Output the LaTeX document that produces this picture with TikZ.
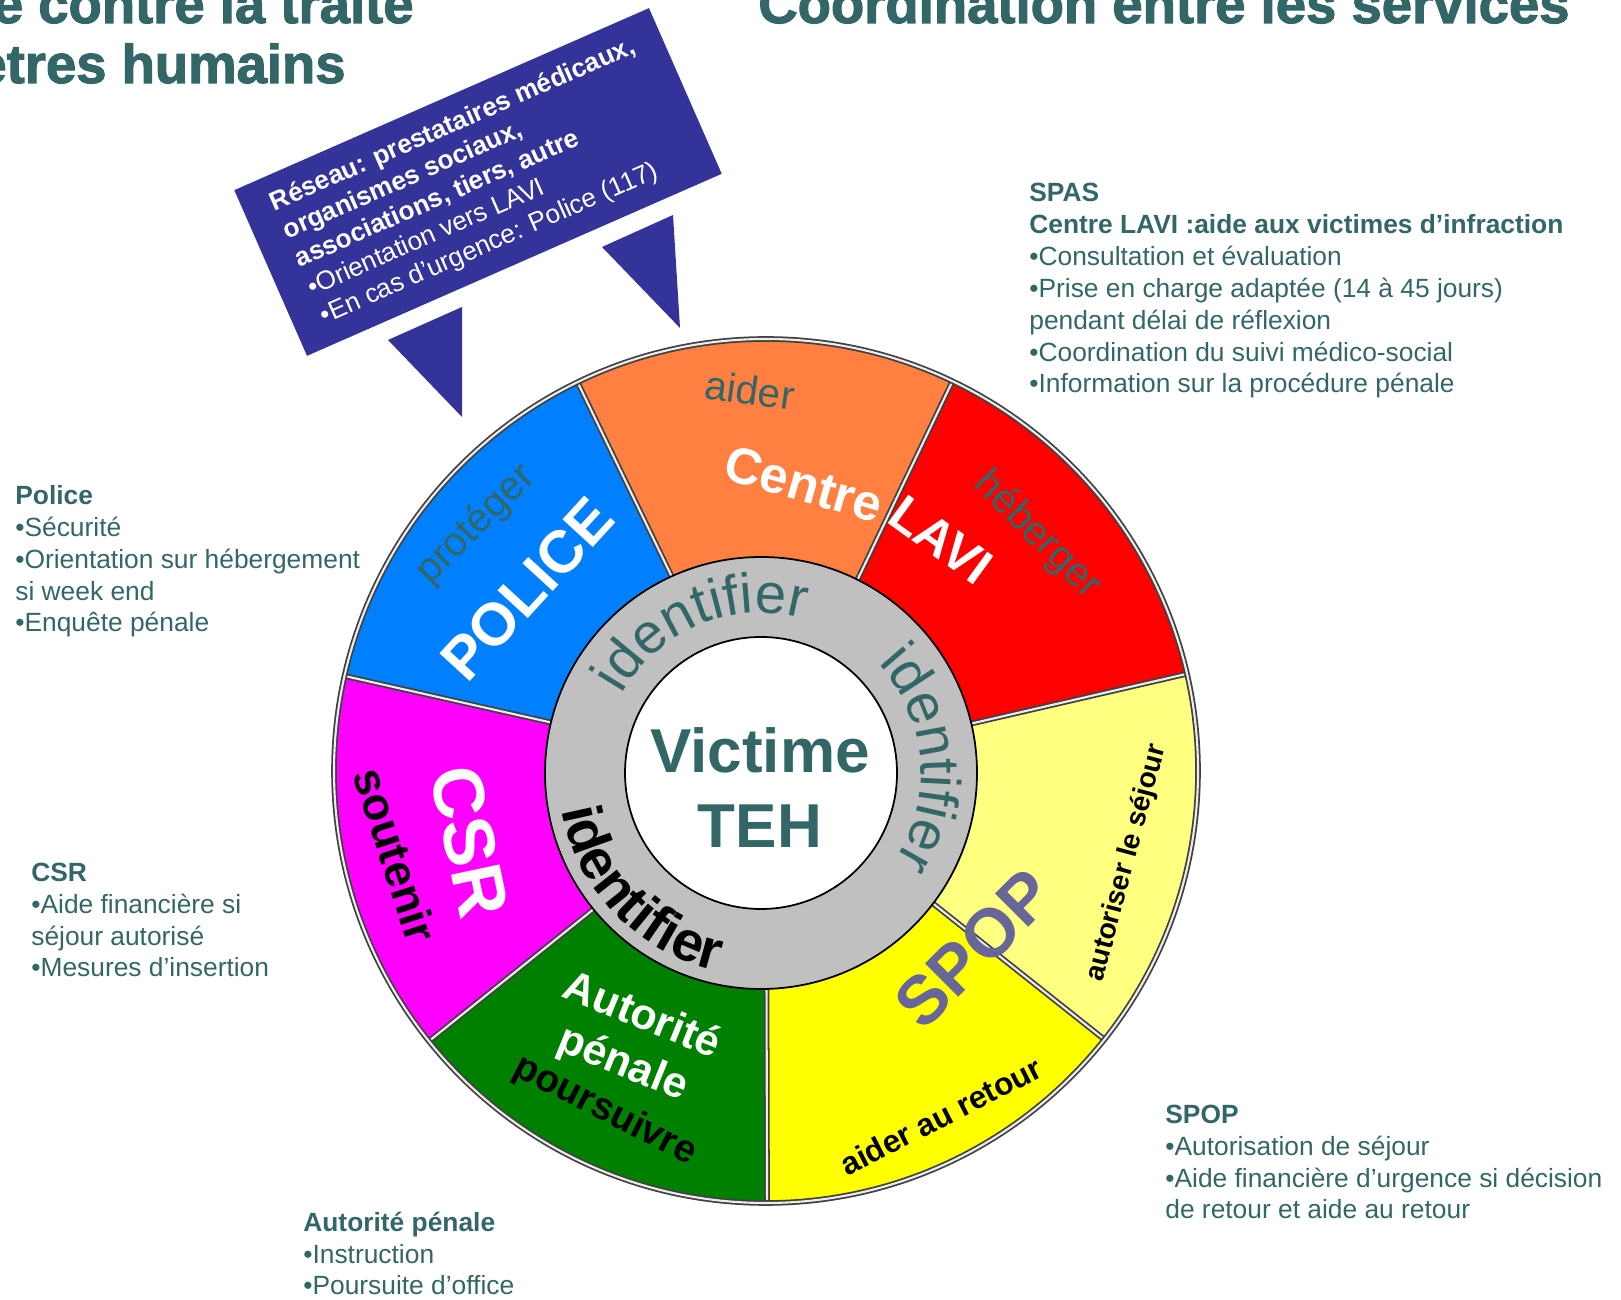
\documentclass[tikz,border=0pt]{standalone}
\usepackage{fontspec}
\setmainfont{Liberation Sans}
\newfontfamily\heavyfont[FakeBold=2]{Liberation Sans Bold}
\usetikzlibrary{decorations.text}
\definecolor{tehteal}{RGB}{51,102,102}
\definecolor{secblue}{RGB}{0,128,255}
\definecolor{secorange}{RGB}{255,128,64}
\definecolor{secred}{RGB}{255,0,0}
\definecolor{secpale}{RGB}{255,255,128}
\definecolor{secyellow}{RGB}{255,255,0}
\definecolor{secgreen}{RGB}{0,128,0}
\definecolor{secmagenta}{RGB}{255,0,255}
\definecolor{ringgray}{RGB}{192,192,192}
\definecolor{boxblue}{RGB}{51,51,153}
\definecolor{spopslate}{RGB}{102,102,153}
\begin{document}
\begin{tikzpicture}[x=0.02cm,y=0.02cm,
  titre/.style={inner sep=0,text=tehteal,font=\fontsize{31}{31}\heavyfont},
  info/.style={anchor=base west,align=left,inner sep=0,text=tehteal,font=\fontsize{15}{18.2}\selectfont},
  callout/.style={fill=boxblue,text=white,align=left,inner sep=0,minimum width=9.06cm,minimum height=3.62cm,font=\fontsize{14.9}{17.6}\selectfont},
  spoke/.style={draw=gray!50!black,line width=1pt,double=gray!15,double distance=1.2pt},
  ringline/.style={draw=black,line width=1pt},
  verbe/.style={inner sep=0,text=tehteal,font=\fontsize{23}{23}\selectfont},
  nom/.style={inner sep=0,text=white,font=\fontsize{29}{29}\selectfont\bfseries},
  action/.style={inner sep=0,text=black,font=\fontsize{18}{18}\selectfont\bfseries}]
\useasboundingbox (0,0) rectangle (1621,1300);
\node[titre,anchor=base east] (titre1) at (414,1277) {e contre la traite};
\node[titre,anchor=base east] (titre2) at (346,1217) {etres humains};
\node[titre,anchor=base west] (titre3) at (758,1277) {Coordination entre les services};
\fill[boxblue] (388,960) -- (462,993) -- (462,883) -- cycle;
\fill[boxblue] (602,1053) -- (673,1085) -- (680,972) -- cycle;
\node[callout,rotate=23.7] (reseau) at (478,1118) {\textbf{Réseau: prestataires médicaux,}\\\textbf{organismes sociaux,}\\\textbf{associations, tiers, autre}\\•Orientation vers LAVI\\•En cas d’urgence: Police (117)};
\coordinate (roue) at (766,529);
\coordinate (coeur) at (761,527);
\fill[secred] (roue) -- ++(13:432) arc[start angle=13,end angle=64.43,radius=432] -- cycle;
\fill[secorange] (roue) -- ++(64.43:432) arc[start angle=64.43,end angle=115.86,radius=432] -- cycle;
\fill[secblue] (roue) -- ++(115.86:432) arc[start angle=115.86,end angle=167.29,radius=432] -- cycle;
\fill[secmagenta] (roue) -- ++(167.29:432) arc[start angle=167.29,end angle=218.71,radius=432] -- cycle;
\fill[secgreen] (roue) -- ++(218.71:432) arc[start angle=218.71,end angle=270.14,radius=432] -- cycle;
\fill[secyellow] (roue) -- ++(270.14:432) arc[start angle=270.14,end angle=321.57,radius=432] -- cycle;
\fill[secpale] (roue) -- ++(321.57:432) arc[start angle=321.57,end angle=373,radius=432] -- cycle;
\draw[spoke] ([shift={(13:200)}]roue) -- ([shift={(13:432)}]roue);
\draw[spoke] ([shift={(64.43:200)}]roue) -- ([shift={(64.43:432)}]roue);
\draw[spoke] ([shift={(115.86:200)}]roue) -- ([shift={(115.86:432)}]roue);
\draw[spoke] ([shift={(167.29:200)}]roue) -- ([shift={(167.29:432)}]roue);
\draw[spoke] ([shift={(218.71:200)}]roue) -- ([shift={(218.71:432)}]roue);
\draw[spoke] ([shift={(270.14:200)}]roue) -- ([shift={(270.14:432)}]roue);
\draw[spoke] ([shift={(321.57:200)}]roue) -- ([shift={(321.57:432)}]roue);
\draw[spoke] (roue) circle[radius=432];
\draw[ringline,fill=ringgray] (coeur) circle[radius=216];
\draw[ringline,fill=white] (coeur) circle[radius=136];
\node[verbe,rotate=45] (proteger) at (476,775) {protéger};
\node[nom,rotate=47.5,font=\fontsize{34}{34}\selectfont\bfseries] (police) at (527,711) {POLICE};
\node[verbe,rotate=-8] (aider) at (750,910) {aider};
\node[nom,rotate=-16] (centre) at (804,816) {Centre};
\node[nom,rotate=-36] (lavi) at (941,760) {LAVI};
\node[verbe,rotate=-45] (heberger) at (1037,765) {héberger};
\node[action,rotate=75,font=\fontsize{16}{16}\selectfont\bfseries] (autoriser) at (1127,437) {autoriser le séjour};
\node[nom,rotate=45,text=spopslate,font=\fontsize{39}{39}\selectfont\bfseries] (spop) at (974,351) {SPOP};
\node[action,rotate=27] (retour) at (941,184) {aider au retour};
\node[nom,rotate=-22,align=center,font=\fontsize{24.5}{29}\selectfont\bfseries] (autorite) at (632,259) {Autorité\\pénale};
\node[action,rotate=-27,font=\fontsize{22}{22}\selectfont\bfseries] (poursuivre) at (605,189) {poursuivre};
\node[nom,rotate=-78,font=\fontsize{41}{41}\selectfont\bfseries] (csr) at (470,458) {CSR};
\node[action,rotate=-72,font=\fontsize{26}{26}\selectfont\bfseries] (soutenir) at (396,445) {soutenir};
\path[decorate,decoration={text along path,text align=center,text={|\fontsize{32}{32}\selectfont\color{tehteal}|identifier}}] ([shift={(170:160)}]coeur) arc[start angle=170,end angle=55,radius=160];
\path[decorate,decoration={text along path,text align=center,text={|\fontsize{32}{32}\selectfont\color{tehteal}|identifier}}] ([shift={(60:160)}]coeur) arc[start angle=60,end angle=-50,radius=160];
\path[decorate,decoration={text along path,text align=center,text={|\fontsize{32}{32}\selectfont\bfseries\color{black}|identifier}}] ([shift={(169:203)}]coeur) arc[start angle=169,end angle=279,radius=203];
\node[anchor=base,inner sep=0,text=tehteal,font=\fontsize{35.3}{35.3}\selectfont\bfseries] (victime) at (760,527) {Victime};
\node[anchor=base,inner sep=0,text=tehteal,font=\fontsize{35.3}{35.3}\selectfont\bfseries] (teh) at (760,452) {TEH};
\node[info] (spas) at (1029,907) {\textbf{SPAS}\\\textbf{Centre LAVI :aide aux victimes d’infraction}\\•Consultation et évaluation\\•Prise en charge adaptée (14 à 45 jours)\\pendant délai de réflexion\\•Coordination du suivi médico-social\\•Information sur la procédure pénale};
\node[info] (policeinfo) at (15,668) {\textbf{Police}\\•Sécurité\\•Orientation sur hébergement\\si week end\\•Enquête pénale};
\node[info] (csrinfo) at (31,323) {\textbf{CSR}\\•Aide financière si\\séjour autorisé\\•Mesures d’insertion};
\node[info] (autoriteinfo) at (303,5) {\textbf{Autorité pénale}\\•Instruction\\•Poursuite d’office};
\node[info] (spopinfo) at (1165,81) {\textbf{SPOP}\\•Autorisation de séjour\\•Aide financière d’urgence si décision\\de retour et aide au retour};
\end{tikzpicture}
\end{document}
